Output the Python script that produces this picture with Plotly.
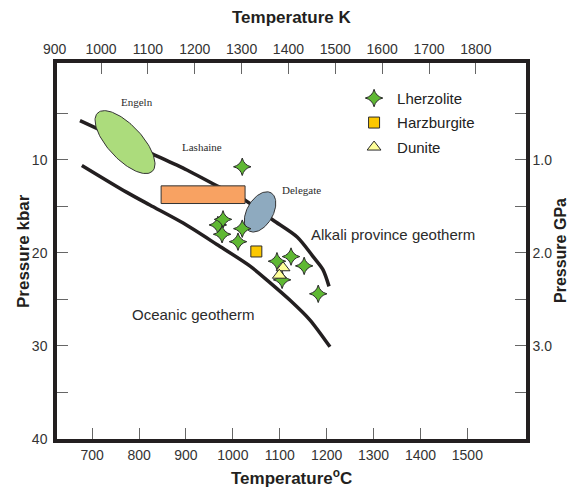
import numpy as np
import plotly.graph_objects as go

# ---------------- data ----------------
# Geotherms (T in °C, P in kbar)
alkali_T = [674, 823, 902, 966, 1015, 1062, 1086, 1137, 1171, 1192, 1205]
alkali_P = [5.8, 9.25, 11.1, 12.8, 14.0, 15.6, 16.5, 18.3, 20.4, 21.8, 23.6]
oceanic_T = [678, 774, 823, 894, 966, 1036, 1079, 1122, 1164, 1207]
oceanic_P = [10.6, 13.5, 14.86, 16.8, 19.1, 21.4, 23.2, 25.1, 27.2, 30.1]

# Xenolith samples
lherz_T = [968, 979, 977, 1020, 1011, 1020, 1094, 1124, 1152, 1105, 1182]
lherz_P = [17.0, 16.4, 18.0, 17.4, 18.8, 10.75, 20.9, 20.4, 21.4, 22.9, 24.4]
harz_T = [1050]
harz_P = [19.85]
dun_T = [1107, 1099]
dun_P = [21.6, 22.4]

# Fields
lashaine_T = [847, 1026]
lashaine_P = [12.8, 14.7]
engeln_center = (770, 8.1)
delegate_center = (1058, 15.6)

# Axis ticks
tC_ticks = [700, 800, 900, 1000, 1100, 1200, 1300, 1400, 1500]
tK_ticks = [1000, 1100, 1200, 1300, 1400, 1500, 1600, 1700, 1800]
p_ticks = [5, 10, 15, 20, 25, 30, 35, 40]
p_labels = ["", "10", "", "20", "", "30", "", "40"]
g_ticks = [0.5, 1.0, 1.5, 2.0, 2.5, 3.0, 3.5]
g_labels = ["", "1.0", "", "2.0", "", "3.0", ""]

# ---------------- layout geometry ----------------
W, H = 571, 488
ML, MR, MT, MB = 57, 45, 63, 49
PW, PH = W - ML - MR, H - MT - MB
XR = [625, 1625]
YR = [40, -0.4]
XR2 = [906, 1907]
sx = PW / (XR[1] - XR[0])          # px per °C
sy = PH / (YR[0] - YR[1])          # px per kbar


def ellipse(center, a_px, b_px, ang_deg, n=120):
    t = np.linspace(0, 2 * np.pi, n)
    a = np.deg2rad(ang_deg)
    x = a_px * np.cos(t)
    y = b_px * np.sin(t)
    xr = x * np.cos(a) - y * np.sin(a)
    yr = x * np.sin(a) + y * np.cos(a)
    return center[0] + xr / sx, center[1] + yr / sy


FONT = "Liberation Sans, Arial, sans-serif"
SERIF = "Liberation Serif, Times New Roman, serif"
DARK = "#231f20"

fig = go.Figure()

# geotherm curves
for T, P in [(alkali_T, alkali_P), (oceanic_T, oceanic_P)]:
    fig.add_trace(go.Scatter(x=T, y=P, mode="lines",
                             line=dict(color=DARK, width=3.5, shape="spline", smoothing=0.8),
                             showlegend=False, hoverinfo="skip"))

# Engeln ellipse
ex, ey = ellipse(engeln_center, 40, 17, 47)
fig.add_trace(go.Scatter(x=ex, y=ey, mode="lines", fill="toself",
                         fillcolor="#acdc7c", line=dict(color="#333333", width=1),
                         showlegend=False, hoverinfo="skip"))
# Lashaine rectangle
rx = [lashaine_T[0], lashaine_T[1], lashaine_T[1], lashaine_T[0], lashaine_T[0]]
ry = [lashaine_P[0], lashaine_P[0], lashaine_P[1], lashaine_P[1], lashaine_P[0]]
fig.add_trace(go.Scatter(x=rx, y=ry, mode="lines", fill="toself",
                         fillcolor="#f8a262", line=dict(color="#333333", width=1),
                         showlegend=False, hoverinfo="skip"))
# Delegate ellipse
dx, dy = ellipse(delegate_center, 22, 13, -60)
fig.add_trace(go.Scatter(x=dx, y=dy, mode="lines", fill="toself",
                         fillcolor="#8eaabf", line=dict(color="#333333", width=1),
                         showlegend=False, hoverinfo="skip"))

# samples
fig.add_trace(go.Scatter(x=lherz_T, y=lherz_P, mode="markers", name="Lherzolite",
                         legendgroup="a",
                         marker=dict(symbol="star-diamond", size=12.5, color="#5fb833",
                                     line=dict(color="#2b2b2b", width=1))))
fig.add_trace(go.Scatter(x=harz_T, y=harz_P, mode="markers", name="Harzburgite",
                         legendgroup="b",
                         marker=dict(symbol="square", size=11, color="#fcc800",
                                     line=dict(color="#2b2b2b", width=1))))
fig.add_trace(go.Scatter(x=dun_T, y=dun_P, mode="markers", name="Dunite",
                         legendgroup="c",
                         marker=dict(symbol="triangle-up", size=12, color="#ffff99",
                                     line=dict(color="#2b2b2b", width=1))))

# dummy trace to bind secondary axes
fig.add_trace(go.Scatter(x=[XR2[0]], y=[0], xaxis="x2", yaxis="y2", mode="markers",
                         marker=dict(opacity=0), showlegend=False, hoverinfo="skip"))

tickfont = dict(family=FONT, size=14, color="#333333")
common = dict(showgrid=False, zeroline=False, showline=True, linewidth=3.5,
              linecolor=DARK, ticks="inside", ticklen=11, tickwidth=1.2,
              tickcolor="#666666", tickfont=tickfont)

fig.update_layout(
    width=W, height=H,
    margin=dict(l=ML, r=MR, t=MT, b=MB),
    paper_bgcolor="white", plot_bgcolor="white",
    xaxis=dict(range=XR, tickmode="array", tickvals=tC_ticks,
               ticklabelstandoff=0, **common),
    xaxis2=dict(range=XR2, overlaying="x", side="top", anchor="y",
                tickmode="array", tickvals=tK_ticks, ticklabelstandoff=0, **common),
    yaxis=dict(range=YR, tickmode="array", tickvals=p_ticks, ticktext=p_labels,
               ticklabelstandoff=3, **common),
    yaxis2=dict(range=[YR[0] / 10, YR[1] / 10], overlaying="y", side="right", anchor="x",
                tickmode="array", tickvals=g_ticks, ticktext=g_labels,
                ticklabelstandoff=0, **common),
    showlegend=True,
    legend=dict(x=0.627, y=0.95, xanchor="left", yanchor="top", itemwidth=36,
                font=dict(family=FONT, size=15, color="#222222"),
                bgcolor="rgba(0,0,0,0)", tracegroupgap=2),
)


def px_to_paper(xp, yp):
    return (xp - ML) / PW, 1 - (yp - MT) / PH


titles = [("<b>Temperature K</b>", 291, 18, 0, 17),
          ("<b>Temperature<sup>o</sup>C</b>", 291, 477, 0, 17),
          ("<b>Pressure kbar</b>", 23, 251, -90, 17),
          ("<b>Pressure GPa</b>", 560, 251, -90, 16)]
for txt, xp, yp, ang, fs in titles:
    px_, py_ = px_to_paper(xp, yp)
    fig.add_annotation(text=txt, x=px_, y=py_, xref="paper", yref="paper",
                       showarrow=False, textangle=ang, xanchor="center", yanchor="middle",
                       font=dict(family=FONT, size=fs, color="#231f20"))
# '900' K label at the frame corner
p9x, p9y = px_to_paper(55, 49)
fig.add_annotation(text="900", x=p9x, y=p9y, xref="paper", yref="paper", showarrow=False,
                   xanchor="center", yanchor="middle", font=tickfont)

# in-plot labels
labels = [("Engeln", 796, 3.8, SERIF, 11),
          ("Lashaine", 934, 8.6, SERIF, 11),
          ("Delegate", 1146, 13.25, SERIF, 11),
          ("Alkali province geotherm", 1342, 18.0, FONT, 15),
          ("Oceanic geotherm", 915, 26.6, FONT, 15)]
for txt, x, y, fam, sz in labels:
    fig.add_annotation(text=txt, x=x, y=y, xref="x", yref="y", showarrow=False,
                       font=dict(family=fam, size=sz, color="#2b2b2b"))

fig.write_html("out.html")
